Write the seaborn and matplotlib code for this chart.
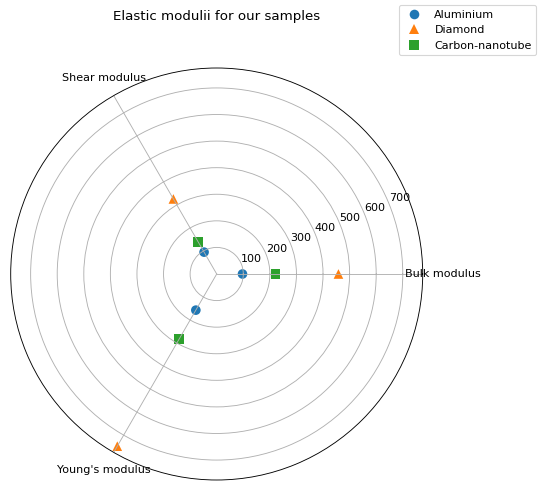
import numpy as np
import pandas as pd
import matplotlib
matplotlib.use("Agg")
import matplotlib.pyplot as plt
import seaborn as sns

# values
properties = ["Bulk modulus", "Shear modulus", "Young's modulus"]
samples = ["Aluminium", "Diamond", "Carbon-nanotube"]
aluminium = [97, 95, 157]
diamond = [458, 326, 748]
carbon_nanotube = [221, 139, 283]
radial_ticks = [100, 200, 300, 400, 500, 600, 700]

angles = np.deg2rad([0, 120, 240])

rows = []
for name, vals in zip(samples, [aluminium, diamond, carbon_nanotube]):
    for prop, ang, v in zip(properties, angles, vals):
        rows.append({"sample": name, "property": prop, "theta": ang, "value": v})
df = pd.DataFrame(rows)

fig = plt.figure(figsize=(541 / 80, 491 / 80), dpi=80)
ax = fig.add_axes([10.7 / 541, 11 / 491, 412 / 541, 412 / 491], projection="polar")

sns.scatterplot(
    data=df, x="theta", y="value", hue="sample", style="sample",
    hue_order=samples, style_order=samples,
    markers=["o", "^", "s"], s=75, linewidth=0, ax=ax,
)

ax.set_xticks(angles, properties)
ax.set_yticks(radial_ticks)
ax.set_ylim(0, 775)
ax.set_xlabel("")
ax.set_ylabel("")
ax.tick_params(axis="x", pad=7.5)
ax.set_title("Elastic modulii for our samples", y=1.1)

sns.move_legend(ax, "upper right", bbox_to_anchor=(1.289, 1.166), title=None)

fig.savefig("out.png", dpi=80)
